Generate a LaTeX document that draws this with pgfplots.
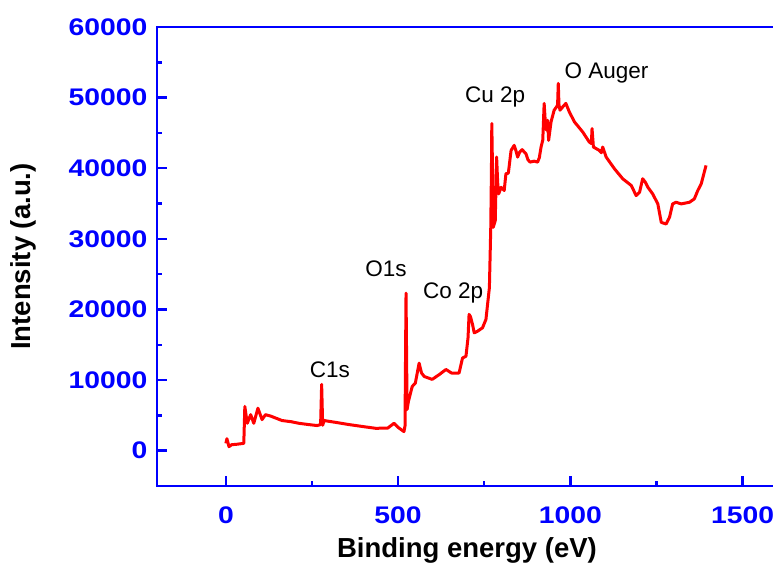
\documentclass[border=0pt]{standalone}
\usepackage{fontspec}
\setmainfont{Liberation Sans}
\newfontfamily\tickfont[FakeStretch=1.18]{Liberation Sans}
\usepackage{pgfplots}
\pgfplotsset{compat=1.18}
\definecolor{axblue}{RGB}{0,0,255}
\begin{document}
\begin{tikzpicture}
\begin{axis}[
  name=ax,
  scale only axis,
  width=620pt, height=459pt,
  xmin=-200, xmax=1600, ymin=-5000, ymax=60000,
  scaled x ticks=false, scaled y ticks=false,
  axis line style={axblue, line width=2.4pt},
  xtick={0,500,1000,1500}, ytick={0,10000,20000,30000,40000,50000,60000},
  xticklabels={0,500,1000,1500},
  yticklabels={0,10000,20000,30000,40000,50000,60000},
  minor x tick num=1, minor y tick num=1,
  xtick pos=lower, ytick pos=left,
  xtick align=inside, ytick align=inside,
  major tick length=10pt, minor tick length=5pt,
  major tick style={axblue, line width=2.4pt},
  minor tick style={axblue, line width=2.4pt},
  ticklabel style={font=\tickfont\fontsize{24}{28}\selectfont\bfseries, text=axblue},
  xticklabel shift=17pt,
  yticklabel shift=6pt,
  xlabel={Binding energy (eV)},
  ylabel={Intensity (a.u.)},
  label style={font=\fontsize{27.5}{32}\selectfont\bfseries},
  xlabel style={at={([yshift=-64pt]axis description cs:0.5,0)}, anchor=center},
  ylabel style={at={([xshift=-134pt]axis description cs:0,0.5)}, anchor=center},
  clip=false,
]
\addplot[red, line width=3pt, line join=round] coordinates {
(0,1040) (3,1700) (9,570) (17,850) (30,900) (52,1040) (55,6260) (62,3880) (72,5100)
(81,3880) (93,6020) (105,4400) (115,5100) (130,4900) (163,4270) (190,4100) (212,3880)
(240,3700) (265,3560) (275,3700)
(278,9390) (281,3600) (285,4270) (320,4000) (357,3700) (400,3400) (435,3170) (470,3200)
(488,3880) (500,3300) (517,2700) (520,3500)
(523,22300) (526,5830) (530,7000) (541,9100) (550,9570) (561,12400) (568,11000)
(576,10500) (599,10100) (620,10800) (639,11500) (655,11000) (677,11000) (687,13130)
(697,13370) (703,16000) (706,19300) (710,19000) (716,17880) (721,16690) (730,16900)
(745,17400) (755,18590) (765,23090) (769,31620) (771,40000) (772,46330) (774,40000)
(776,31620) (782,32570) (786,41580) (789,38000) (792,36370) (799,37300) (808,36840)
(813,39220) (820,39300) (828,42530) (837,43240) (842,42500) (847,41580) (853,42300)
(860,42630) (871,42060) (877,41200) (883,40870) (895,41000) (905,40870) (910,41500)
(915,43000) (920,44000) (924,49180) (928,46000) (931,45380) (934,46800) (937,43950)
(944,46560) (953,48220) (960,48690) (963,49000) (965,52020) (967,49000) (970,48220)
(978,48690) (987,49180) (997,47980) (1012,46560) (1036,45130) (1055,43710) (1061,43500)
(1063,45620) (1067,43000) (1084,42530) (1090,42200) (1094,43000) (1104,41580)
(1128,39930) (1152,38510) (1177,37550) (1191,36130) (1201,36600) (1210,38510)
(1218,38000) (1225,37310) (1239,36370) (1254,34950) (1264,32330) (1278,32100)
(1288,33050) (1297,34950) (1307,35180) (1322,34950) (1346,35180) (1360,35660)
(1370,36840) (1380,37790) (1394,40400)
};
\node[font=\fontsize{22.5}{26}\selectfont] at (axis cs:302,11500) {C1s};
\node[font=\fontsize{22.5}{26}\selectfont] at (axis cs:465,25750) {O1s};
\node[font=\fontsize{22.5}{26}\selectfont] at (axis cs:660,22300) {Co 2p};
\node[font=\fontsize{22.5}{26}\selectfont] at (axis cs:782,50070) {Cu 2p};
\node[font=\fontsize{22.5}{26}\selectfont] at (axis cs:1105,53480) {O Auger};
\end{axis}
\pgfresetboundingbox
\path[use as bounding box] ([xshift=-157pt,yshift=-80pt]ax.south west) rectangle ([xshift=-4pt,yshift=27pt]ax.north east);
\end{tikzpicture}
\end{document}
